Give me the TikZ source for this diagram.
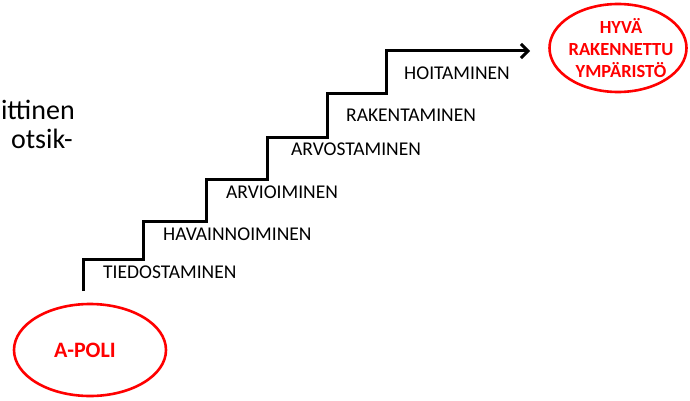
\documentclass[tikz,border=0pt]{standalone}
\usepackage{fontspec}
\setmainfont{Carlito}
\usetikzlibrary{positioning, calc}
\usetikzlibrary{shapes.geometric}
\usetikzlibrary{arrows.meta}

\tikzset{
    stair/.style={line width=3pt, -{Straight Barb[length=7pt,width=14pt,line width=3pt]}},
    steplabel/.style={anchor=west, inner sep=0pt, font=\fontsize{19.5}{22}\selectfont},
    goal/.style={ellipse, draw=red, line width=2.6pt, inner sep=0pt},
    goaltext/.style={text=red, align=center, inner sep=0pt, font=\bfseries\fontsize{18.5}{22}\selectfont},
    sidetext/.style={anchor=base east, inner sep=0pt, font=\fontsize{28}{32}\selectfont}
}

\begin{document}
\begin{tikzpicture}[x=1pt, y=-1pt]
            \useasboundingbox (0,0) rectangle (690,401);
            \node[sidetext] (side1) at (75,120) {ittinen};
            \node[sidetext] (side2) at (73,148) {otsik-};
            \draw[stair] (83,291) |- (143,259) |- (206,221) |- (267,179) |- (327,137) |- (386,94) |- (530,51);
            \foreach \lab/\x/\y [count=\i] in {TIEDOSTAMINEN/103/272, HAVAINNOIMINEN/163/234, ARVIOIMINEN/226/192,
                ARVOSTAMINEN/291/149, RAKENTAMINEN/346/115, HOITAMINEN/404/73}{
                \node[steplabel] (lab\i) at (\x,\y) {\lab};
            }
            % the two ends of the stair
            \node[goal, minimum width=152pt, minimum height=92pt] (apoli) at (90,350) {};
            \node[goaltext, font=\bfseries\fontsize{22}{24}\selectfont] (apolitext) at ([xshift=-5pt]apoli.center) {A-POLI};
            \node[goal, minimum width=137pt, minimum height=88pt] (hyva) at (618,48) {};
            \node[goaltext] (hyvatext) at ([xshift=3pt]hyva.center) {HYVÄ\\RAKENNETTU\\YMPÄRISTÖ};
        \end{tikzpicture}
\end{document}
